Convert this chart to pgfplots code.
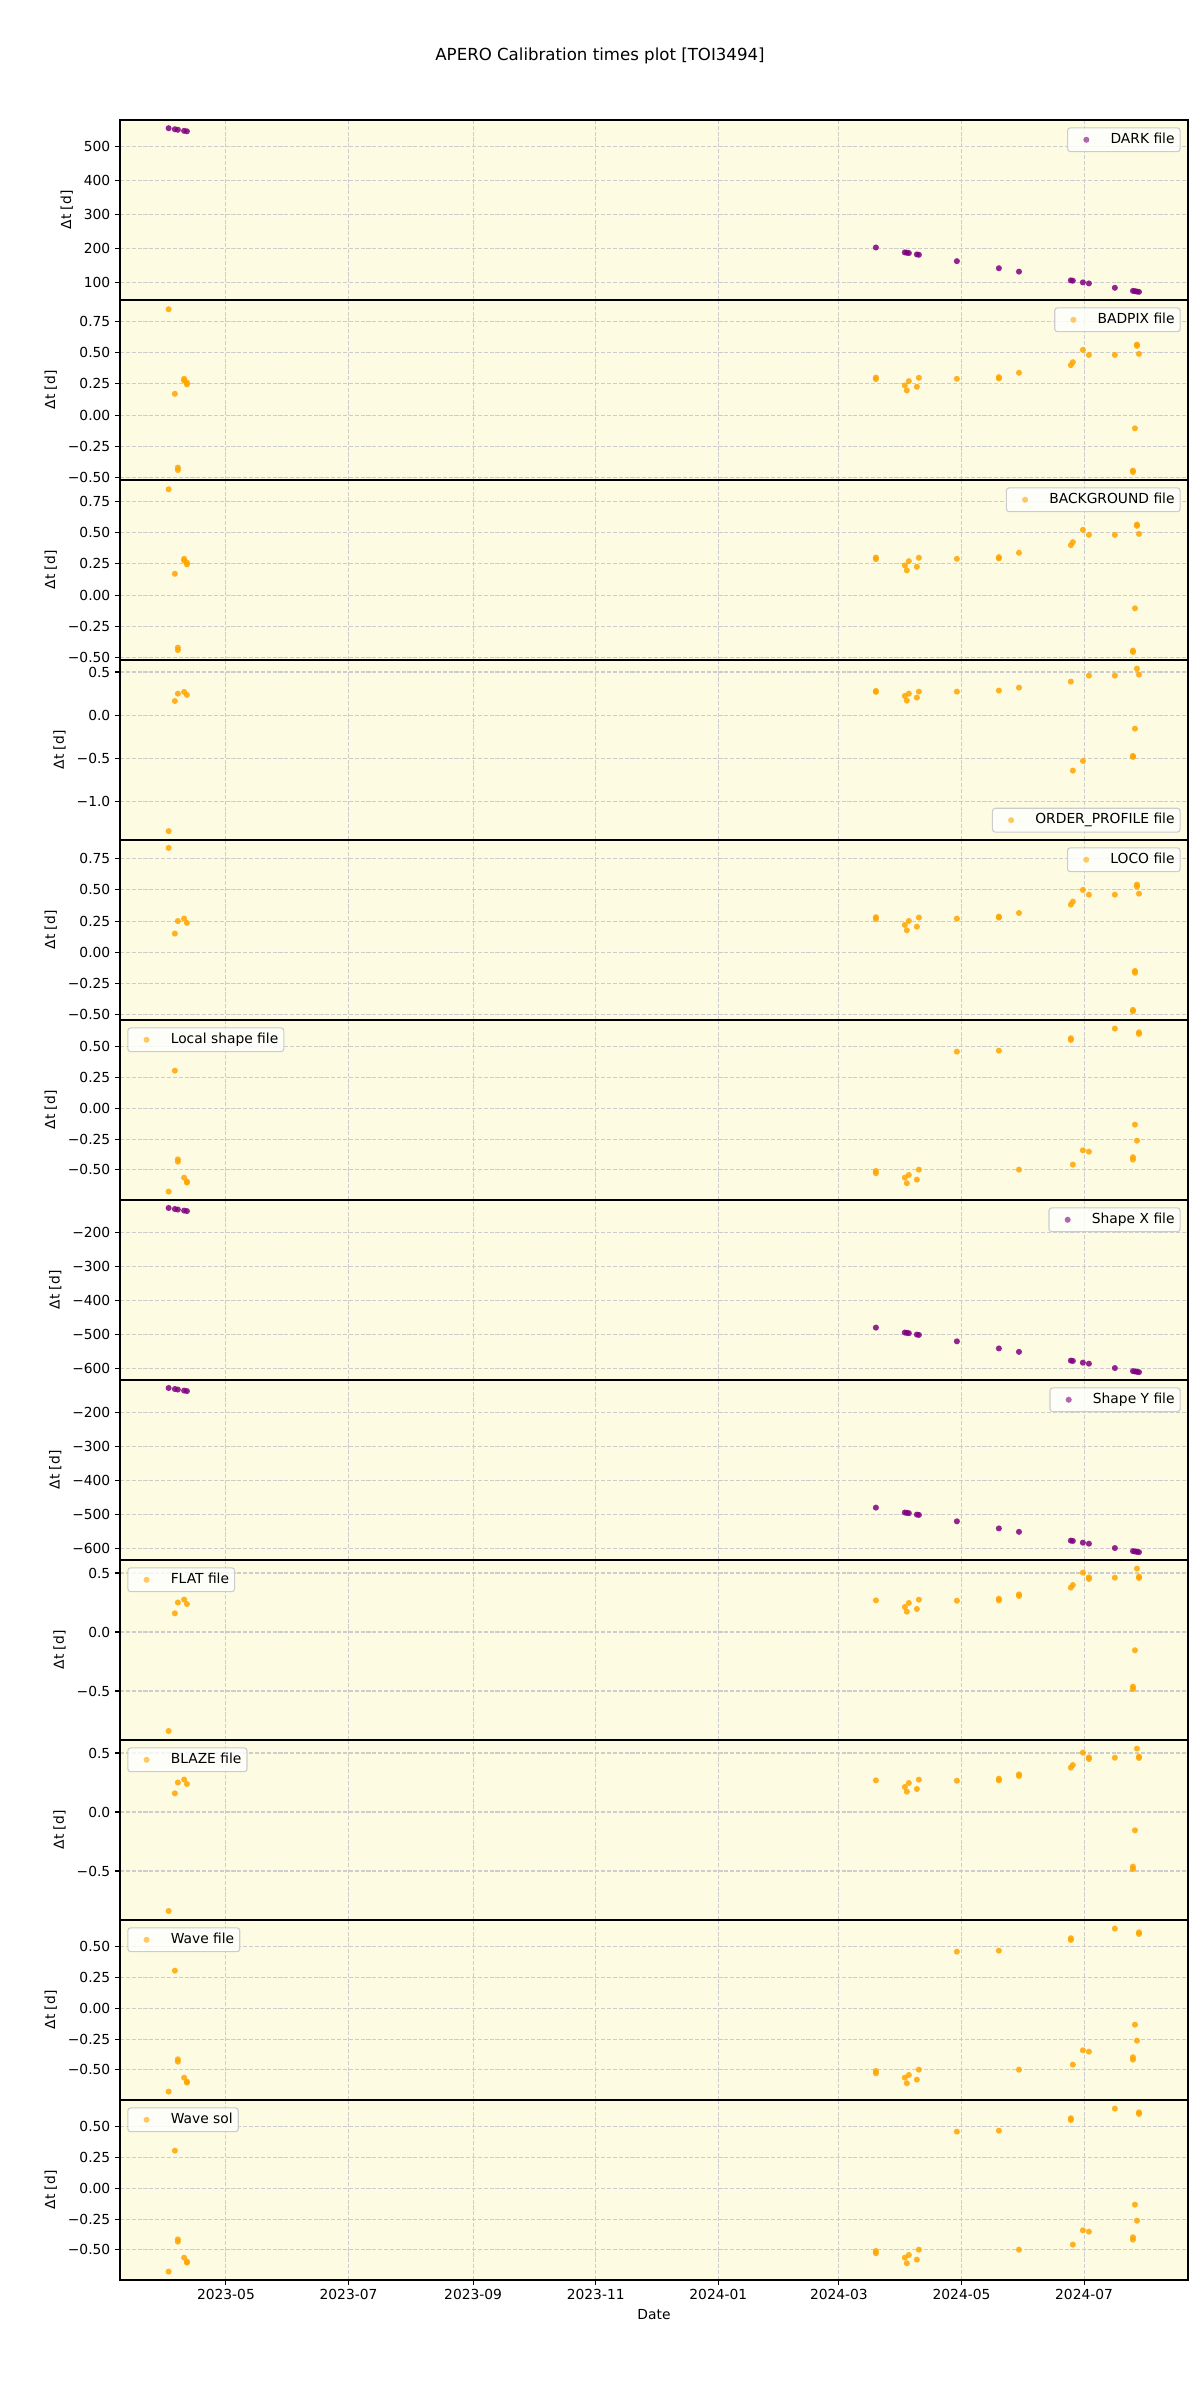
\documentclass[border=0pt]{standalone}
\usepackage{fontspec}
\setmainfont{DejaVu Sans}
\usepackage{pgfplots}
\pgfplotsset{compat=1.18}
\usepackage{pgfplotstable}

\definecolor{bgy}{RGB}{253,252,226}
\definecolor{mpurple}{RGB}{128,0,128}
\definecolor{morange}{RGB}{255,165,0}
\definecolor{gridc}{RGB}{205,205,205}
\definecolor{legedge}{RGB}{204,204,204}

% DARK
\pgfplotstableread{
d v
91.5 554.5
94.6 551.4
96.1 549.9
99.2 546.8
100.6 545.4
443.4 202.6
457.8 188.2
458.8 187.2
459.8 186.2
463.8 182.2
464.8 181.2
483.7 162.3
504.6 141.4
514.6 131.4
540.4 105.6
541.4 104.6
546.4 99.6
549.4 96.6
562.3 83.7
571.3 74.7
572.3 73.7
573.3 72.7
574.3 71.7
}\darktab

% Shape X / Shape Y
\pgfplotstableread{
d v
91.5 -128.5
94.6 -131.6
96.1 -133.1
99.2 -136.2
100.6 -137.6
443.4 -480.4
457.8 -494.8
458.8 -495.8
459.8 -496.8
463.8 -500.8
464.8 -501.8
483.7 -520.7
504.6 -541.6
514.6 -551.6
540.4 -577.4
541.4 -578.4
546.4 -583.4
549.4 -586.4
562.3 -599.3
571.3 -608.3
572.3 -609.3
573.3 -610.3
574.3 -611.3
}\shapetab

% BADPIX / BACKGROUND
\pgfplotstableread{
d v
91.5 0.846
94.6 0.170
96.1 -0.420
96.1 -0.440
99.2 0.290
99.2 0.275
100.6 0.260
100.6 0.245
443.4 0.300
443.4 0.287
457.8 0.237
458.8 0.197
459.8 0.271
463.8 0.226
464.8 0.298
483.7 0.290
504.6 0.303
504.6 0.293
514.6 0.338
540.4 0.399
541.4 0.423
546.4 0.521
549.4 0.481
562.3 0.481
571.3 -0.444
571.3 -0.455
572.3 -0.106
573.3 0.564
573.3 0.553
574.3 0.489
}\badtab

% ORDER_PROFILE
\pgfplotstableread{
d v
91.5 -1.340
94.6 0.165
96.1 0.250
99.2 0.270
100.6 0.235
443.4 0.281
443.4 0.270
457.8 0.223
458.8 0.169
459.8 0.250
463.8 0.204
464.8 0.273
483.7 0.273
504.6 0.285
514.6 0.319
540.4 0.389
541.4 -0.640
546.4 -0.528
549.4 0.458
562.3 0.458
571.3 -0.470
571.3 -0.482
572.3 -0.155
573.3 0.539
574.3 0.470
}\ordtab

% LOCO
\pgfplotstableread{
d v
91.5 0.837
94.6 0.150
96.1 0.250
99.2 0.270
100.6 0.235
443.4 0.281
443.4 0.267
457.8 0.219
458.8 0.176
459.8 0.251
463.8 0.205
464.8 0.278
483.7 0.270
504.6 0.286
504.6 0.278
514.6 0.315
540.4 0.382
541.4 0.406
546.4 0.500
549.4 0.462
562.3 0.462
571.3 -0.463
571.3 -0.474
572.3 -0.150
572.3 -0.165
573.3 0.543
573.3 0.527
574.3 0.470
}\locotab

% FLAT / BLAZE
\pgfplotstableread{
d v
91.5 -0.839
94.6 0.158
96.1 0.250
99.2 0.275
100.6 0.237
443.4 0.268
457.8 0.212
458.8 0.172
459.8 0.246
463.8 0.195
464.8 0.274
483.7 0.265
504.6 0.282
504.6 0.268
514.6 0.319
514.6 0.305
540.4 0.376
541.4 0.398
546.4 0.503
549.4 0.463
549.4 0.449
562.3 0.460
571.3 -0.463
571.3 -0.483
572.3 -0.155
573.3 0.537
574.3 0.469
574.3 0.458
}\flattab

% Local shape / Wave file / Wave sol
\pgfplotstableread{
d v
91.5 -0.676
94.6 0.305
96.1 -0.414
96.1 -0.433
99.2 -0.563
100.6 -0.595
100.6 -0.603
443.4 -0.509
443.4 -0.527
457.8 -0.563
458.8 -0.608
459.8 -0.541
463.8 -0.579
464.8 -0.498
483.7 0.459
504.6 0.467
514.6 -0.498
540.4 0.568
540.4 0.554
541.4 -0.457
546.4 -0.341
549.4 -0.352
562.3 0.646
571.3 -0.397
571.3 -0.417
572.3 -0.133
573.3 -0.263
574.3 0.616
574.3 0.603
}\shptab

\pgfplotsset{
  panel/.style={
    anchor=south west,
    scale only axis,
    width=10.68in, height=1.8in,
    xmin=67.3, xmax=598.7,
    xtick={120,181,243,304,365,425,486,547},
    xticklabels={},
    axis background/.style={fill=bgy},
    grid=major,
    major grid style={draw=gridc, line width=0.8pt, dash pattern=on 2.96pt off 1.28pt},
    tick align=outside,
    tick pos=left,
    major tick length=3.5pt,
    every tick/.style={black, line width=0.8pt},
    axis line style={line width=0.8pt},
    ylabel={Δt [d]},
    ylabel style={font=\fontsize{10}{12}\selectfont, yshift=1pt},
    tick label style={font=\fontsize{10}{12}\selectfont},
    legend image code/.code={%
      \path[fill=none, draw=none] (0pt,-2pt) rectangle (27pt,2pt);
      \fill[#1, draw=none, fill opacity=0.6] (9.5pt,0pt) circle (2.2pt);},
    legend style={font=\fontsize{10}{12}\selectfont, draw=legedge, line width=0.8pt,
      fill=white, fill opacity=0.8, text opacity=1, draw opacity=1,
      rounded corners=2pt, inner xsep=4pt, inner ysep=3.6pt,
      nodes={inner sep=0pt, text height=7.6pt, text depth=2.4pt},
      column sep=0pt},
    legend cell align=left,
    clip=false,
  },
  ur/.style={legend style={at={(1,1)}, anchor=north east, xshift=-5.3pt, yshift=-5.3pt}},
  ul/.style={legend style={at={(0,1)}, anchor=north west, xshift=5.3pt, yshift=-5.3pt}},
  lr/.style={legend style={at={(1,0)}, anchor=south east, xshift=-5.3pt, yshift=5.3pt}},
  pur/.style={only marks, mark=*, mark size=2.2pt, color=mpurple,
    mark options={draw=none, fill=mpurple}, fill opacity=0.85, draw opacity=0},
  ora/.style={only marks, mark=*, mark size=2.2pt, color=morange,
    mark options={draw=none, fill=morange}, fill opacity=0.85, draw opacity=0},
  decimals/.style={ytick={-0.5,-0.25,0,0.25,0.5,0.75}, yticklabels={−0.50,−0.25,0.00,0.25,0.50,0.75}},
  decimalsb/.style={ytick={-0.5,-0.25,0,0.25,0.5}, yticklabels={−0.50,−0.25,0.00,0.25,0.50}},
  shapeticks/.style={ytick={-600,-500,-400,-300,-200}, yticklabels={−600,−500,−400,−300,−200}, ymin=-634.4, ymax=-105},
}

\begin{document}
\begin{tikzpicture}
\path[use as bounding box] (0,0) rectangle (12in,24in);
\node[anchor=north, font=\fontsize{12}{14}\selectfont, inner sep=0pt] at (6in,23.52in) {APERO Calibration times plot [TOI3494]};

% 1 DARK
\begin{axis}[panel, ur, at={(1.2in,21.0in)}, ymin=47.8, ymax=578.8,
  ytick={100,200,300,400,500}, yticklabels={100,200,300,400,500}]
\addplot[pur] table[x=d,y=v]{\darktab};
\addlegendentry{DARK file}
\end{axis}

% 2 BADPIX
\begin{axis}[panel, ur, at={(1.2in,19.2in)}, ymin=-0.519, ymax=0.920, decimals]
\addplot[ora] table[x=d,y=v]{\badtab};
\addlegendentry{BADPIX file}
\end{axis}

% 3 BACKGROUND
\begin{axis}[panel, ur, at={(1.2in,17.4in)}, ymin=-0.519, ymax=0.920, decimals]
\addplot[ora] table[x=d,y=v]{\badtab};
\addlegendentry{BACKGROUND file}
\end{axis}

% 4 ORDER_PROFILE
\begin{axis}[panel, lr, at={(1.2in,15.6in)}, ymin=-1.442, ymax=0.639,
  ytick={-1,-0.5,0,0.5}, yticklabels={−1.0,−0.5,0.0,0.5}]
\addplot[ora] table[x=d,y=v]{\ordtab};
\addlegendentry{ORDER\_PROFILE file}
\end{axis}

% 5 LOCO
\begin{axis}[panel, ur, at={(1.2in,13.8in)}, ymin=-0.544, ymax=0.901, decimals]
\addplot[ora] table[x=d,y=v]{\locotab};
\addlegendentry{LOCO file}
\end{axis}

% 6 Local shape
\begin{axis}[panel, ul, at={(1.2in,12.0in)}, ymin=-0.744, ymax=0.716, decimalsb]
\addplot[ora] table[x=d,y=v]{\shptab};
\addlegendentry{Local shape file}
\end{axis}

% 7 Shape X
\begin{axis}[panel, ur, at={(1.2in,10.2in)}, shapeticks]
\addplot[pur] table[x=d,y=v]{\shapetab};
\addlegendentry{Shape X file}
\end{axis}

% 8 Shape Y
\begin{axis}[panel, ur, at={(1.2in,8.4in)}, shapeticks]
\addplot[pur] table[x=d,y=v]{\shapetab};
\addlegendentry{Shape Y file}
\end{axis}

% 9 FLAT
\begin{axis}[panel, ul, at={(1.2in,6.6in)}, ymin=-0.915, ymax=0.610,
  ytick={-0.5,0,0.5}, yticklabels={−0.5,0.0,0.5}]
\addplot[ora] table[x=d,y=v]{\flattab};
\addlegendentry{FLAT file}
\end{axis}

% 10 BLAZE
\begin{axis}[panel, ul, at={(1.2in,4.8in)}, ymin=-0.915, ymax=0.610,
  ytick={-0.5,0,0.5}, yticklabels={−0.5,0.0,0.5}]
\addplot[ora] table[x=d,y=v]{\flattab};
\addlegendentry{BLAZE file}
\end{axis}

% 11 Wave file
\begin{axis}[panel, ul, at={(1.2in,3.0in)}, ymin=-0.744, ymax=0.716, decimalsb]
\addplot[ora] table[x=d,y=v]{\shptab};
\addlegendentry{Wave file}
\end{axis}

% 12 Wave sol
\begin{axis}[panel, ul, at={(1.2in,1.2in)}, ymin=-0.744, ymax=0.716, decimalsb,
  xticklabels={2023-05,2023-07,2023-09,2023-11,2024-01,2024-03,2024-05,2024-07},
  xlabel={Date}, xlabel style={font=\fontsize{10}{12}\selectfont}]
\addplot[ora] table[x=d,y=v]{\shptab};
\addlegendentry{Wave sol}
\end{axis}
\end{tikzpicture}
\end{document}
